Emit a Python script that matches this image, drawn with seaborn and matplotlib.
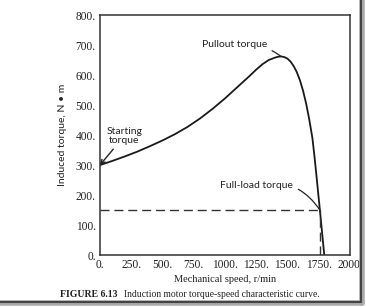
import seaborn as sns
import matplotlib.pyplot as plt
import matplotlib.lines as mlines
import pandas as pd

# Curva par-velocidad
speed = [0, 100, 200, 300, 400, 500, 600, 700, 800, 900, 1000, 1100, 1200,
         1250, 1300, 1350, 1400, 1425, 1450, 1475, 1500, 1525, 1550, 1575,
         1600, 1625, 1650, 1675, 1700, 1715, 1730, 1745, 1760, 1795]
torque = [300, 314, 329, 345, 363, 382, 403, 427, 455, 487, 522, 560, 598,
          618, 636, 650, 658, 661, 662, 660, 655, 645, 630, 610,
          583, 548, 505, 452, 390, 335, 275, 212, 150, 0]

x_ticks = [0, 250, 500, 750, 1000, 1250, 1500, 1750, 2000]
y_ticks = [0, 100, 200, 300, 400, 500, 600, 700, 800]
x_labels = [f"{v}." for v in x_ticks]
y_labels = [f"{v}." for v in y_ticks]

full_load_speed = 1757
full_load_torque = 150
pullout_speed = 1450
pullout_torque = 662
starting_torque = 300

df = pd.DataFrame({"speed": speed, "torque": torque})

sns.set_theme(style="white")
plt.rcParams["font.family"] = ["Liberation Serif", "DejaVu Serif"]

fig = plt.figure(figsize=(3.66, 3.07), dpi=100)
ax = fig.add_axes([0.273, 0.169, 0.683, 0.782])

sns.lineplot(data=df, x="speed", y="torque", color="#1a1a1a", linewidth=1.3, ax=ax)

# lineas de carga nominal
dash = (6.5, 3.5)
ax.plot([0, full_load_speed], [full_load_torque, full_load_torque],
        color="#333333", linewidth=1.0, dashes=dash)
ax.plot([full_load_speed, full_load_speed], [0, full_load_torque],
        color="#333333", linewidth=1.0, dashes=dash)

ax.set_xlim(0, 2000)
ax.set_ylim(0, 800)
ax.set_xticks(x_ticks)
ax.set_xticklabels(x_labels)
ax.set_yticks(y_ticks)
ax.set_yticklabels(y_labels)
ax.tick_params(direction="in", length=5, width=1, color="#222222",
               labelsize=8.3, labelcolor="#222222", pad=3)
for s in ax.spines.values():
    s.set_color("#333333")
    s.set_linewidth(1.1)

ax.set_xlabel("Mechanical speed, r/min", fontsize=7.5, color="#222222", labelpad=3)
ax.set_ylabel("Induced torque, N • m", fontsize=7.5, color="#222222", labelpad=6,
              family=["Lato", "DejaVu Sans"])

sans = ["Lato", "DejaVu Sans"]
ax.annotate("Starting\ntorque", xy=(0, starting_torque), xytext=(195, 397),
            ha="center", va="center", fontsize=7.5, family=sans, color="#222222",
            linespacing=0.95,
            arrowprops=dict(arrowstyle="->", color="#222222", lw=1.0,
                            shrinkA=1, shrinkB=0))
ax.annotate("Pullout torque", xy=(pullout_speed, pullout_torque), xytext=(1080, 703),
            ha="center", va="center", fontsize=7.5, family=sans, color="#222222",
            arrowprops=dict(arrowstyle="-", color="#222222", lw=0.9,
                            connectionstyle="arc3,rad=-0.2", shrinkA=1, shrinkB=0))
ax.annotate("Full-load torque", xy=(full_load_speed + 3, full_load_torque),
            xytext=(1250, 233),
            ha="center", va="center", fontsize=7.5, family=sans, color="#222222",
            arrowprops=dict(arrowstyle="-", color="#222222", lw=0.9,
                            connectionstyle="arc3,rad=-0.35", shrinkA=2, shrinkB=0))

# pie de figura
fig.text(0.164, 0.042, "FIGURE 6.13", fontsize=7, fontweight="bold",
         color="#222222", va="center")
fig.text(0.339, 0.042, "Induction motor torque-speed characteristic curve.",
         fontsize=6.9, color="#222222", va="center")

# marco de la pagina escaneada
fig.add_artist(mlines.Line2D([0, 0.989], [0.013, 0.013], color="#aaaaaa",
                             linewidth=4, transform=fig.transFigure))
fig.add_artist(mlines.Line2D([0.989, 0.989], [0.013, 1], color="#aaaaaa",
                             linewidth=4, transform=fig.transFigure))
fig.add_artist(mlines.Line2D([0, 0.986], [0.016, 0.016], color="#444444",
                             linewidth=1.5, transform=fig.transFigure))
fig.add_artist(mlines.Line2D([0.986, 0.986], [0.016, 1], color="#444444",
                             linewidth=1.5, transform=fig.transFigure))

fig.savefig("out.png", dpi=100)
